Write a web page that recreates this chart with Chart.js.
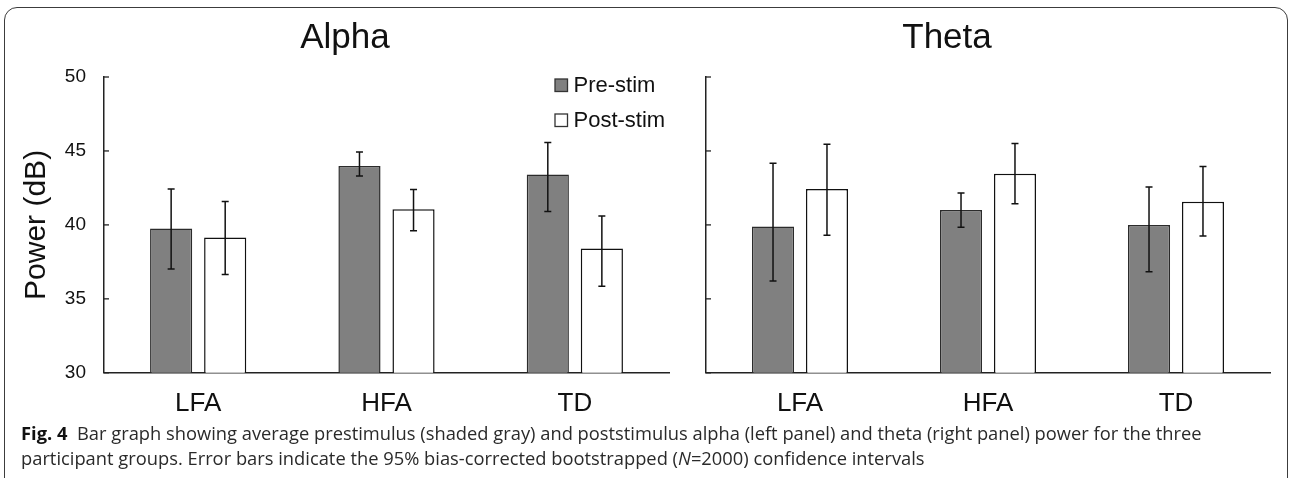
<!DOCTYPE html>
<html><head><meta charset="utf-8">
<script src="https://cdn.jsdelivr.net/npm/chart.js@4.4.1/dist/chart.umd.min.js"></script>
<style>
html,body{margin:0;padding:0;background:#fff;width:1290px;height:478px;overflow:hidden;position:relative}
#frame{position:absolute;left:4px;top:7px;width:1284px;height:540px;border:1.3px solid #3c3c3c;border-radius:13px;box-sizing:border-box}
#c1{position:absolute;left:0;top:0}
#c2{position:absolute;left:624px;top:0}
#cap{position:absolute;left:21px;top:420px;font-family:'Open Sans';color:#2a2a2a;white-space:nowrap;line-height:25px;font-size:16px}
#cap b{color:#111}
</style></head><body>
<div id="frame"></div>
<canvas id="c1" width="690" height="435"></canvas>
<canvas id="c2" width="656" height="435"></canvas>
<div id="cap"><span id="l1"><b>Fig. 4</b>&nbsp; Bar graph showing average prestimulus (shaded gray) and poststimulus alpha (left panel) and theta (right panel) power for the three</span><br><span id="l2">participant groups. Error bars indicate the 95% bias-corrected bootstrapped (<i>N</i>=2000) confidence intervals</span></div>
<script>
// ---- data ----
const groups = ['LFA', 'HFA', 'TD'];
const seriesNames = ['Pre-stim', 'Post-stim'];
const yTicks = [30, 35, 40, 45, 50];

const alphaPre    = [39.75, 43.98, 43.41];
const alphaPreLo  = [37.02, 43.30, 40.91];
const alphaPreHi  = [42.43, 44.93, 45.57];
const alphaPost   = [39.14, 41.05, 38.41];
const alphaPostLo = [36.64, 39.61, 35.86];
const alphaPostHi = [41.59, 42.39, 40.61];

const thetaPre    = [39.90, 41.00, 40.00];
const thetaPreLo  = [36.20, 39.84, 36.84];
const thetaPreHi  = [44.16, 42.16, 42.57];
const thetaPost   = [42.43, 43.45, 41.57];
const thetaPostLo = [39.30, 41.43, 39.25];
const thetaPostHi = [45.45, 45.50, 43.95];

// ---- styling ----
const F = "'Liberation Sans', Arial, sans-serif";
const preFill = '#808080', postFill = '#ffffff';

const errorBars = {
  id: 'errorBars',
  afterDatasetsDraw(chart) {
    const ctx = chart.ctx, ys = chart.scales.y;
    chart.data.datasets.forEach((ds, i) => {
      const meta = chart.getDatasetMeta(i);
      meta.data.forEach((bar, j) => {
        const x = bar.x;
        const yl = ys.getPixelForValue(ds.lo[j]);
        const yh = ys.getPixelForValue(ds.hi[j]);
        ctx.save();
        ctx.strokeStyle = '#111';
        ctx.lineWidth = 1.5;
        ctx.beginPath();
        ctx.moveTo(x, yl); ctx.lineTo(x, yh);
        ctx.moveTo(x - 3.5, yl); ctx.lineTo(x + 3.5, yl);
        ctx.moveTo(x - 3.5, yh); ctx.lineTo(x + 3.5, yh);
        ctx.stroke();
        ctx.restore();
      });
    });
  }
};

const innerTicks = {
  id: 'innerTicks',
  afterDraw(chart) {
    const ys = chart.scales.y, ctx = chart.ctx;
    ctx.save();
    ctx.strokeStyle = '#222';
    ctx.lineWidth = 1.3;
    ys.ticks.forEach(t => {
      const y = ys.getPixelForValue(t.value);
      ctx.beginPath();
      ctx.moveTo(ys.right, y);
      ctx.lineTo(ys.right + 5, y);
      ctx.stroke();
    });
    ctx.restore();
  }
};

const boxLegend = {
  id: 'boxLegend',
  afterDraw(chart, args, opts) {
    if (!opts || !opts.show) return;
    const ca = chart.chartArea, ctx = chart.ctx;
    ctx.save();
    chart.data.datasets.forEach((ds, i) => {
      const x = ca.right - 114, y = ca.top + 2 + i * 35;
      ctx.fillStyle = ds.backgroundColor;
      ctx.fillRect(x, y, 12.5, 12.5);
      ctx.strokeStyle = '#333';
      ctx.lineWidth = 1.3;
      ctx.strokeRect(x, y, 12.5, 12.5);
      ctx.fillStyle = '#111';
      ctx.font = '22px ' + F;
      ctx.textBaseline = 'middle';
      ctx.textAlign = 'left';
      ctx.fillText(ds.label, x + 18.5, y + 6.5);
    });
    ctx.restore();
  }
};

function makeDatasets(pre, preLo, preHi, post, postLo, postHi) {
  const common = { categoryPercentage: 0.574, barPercentage: 0.78, borderWidth: 1.5 };
  return [
    Object.assign({ label: seriesNames[0], data: pre, lo: preLo, hi: preHi,
      backgroundColor: preFill, borderColor: '#2b2b2b' }, common),
    Object.assign({ label: seriesNames[1], data: post, lo: postLo, hi: postHi,
      backgroundColor: postFill, borderColor: '#111' }, common)
  ];
}

function makeOptions(title, showYLabels, yWidth, pad) {
  return {
    responsive: false,
    animation: false,
    layout: { padding: pad },
    plugins: {
      legend: { display: false },
      tooltip: { enabled: false },
      boxLegend: { show: showYLabels },
      title: {
        display: true, text: title, color: '#111',
        font: { family: F, size: 35, weight: 'normal' },
        padding: { top: 17, bottom: 18 }
      }
    },
    scales: {
      x: {
        grid: { display: false, drawTicks: false },
        border: { display: true, color: '#222', width: 1.5 },
        ticks: { color: '#111', font: { family: F, size: 26 }, padding: 15 }
      },
      y: {
        min: 30, max: 50,
        afterBuildTicks: s => { s.ticks = yTicks.map(v => ({ value: v })); },
        afterFit: s => { s.width = yWidth; },
        grid: { display: false, drawTicks: false },
        border: { display: true, color: '#222', width: 1.5 },
        ticks: { display: showYLabels, color: '#111', font: { family: F, size: 19 }, padding: 18 },
        title: {
          display: showYLabels, text: 'Power (dB)', color: '#111',
          font: { family: F, size: 30, lineHeight: 1 },
          padding: { top: 1, bottom: 0 }
        }
      }
    }
  };
}

new Chart(document.getElementById('c1'), {
  type: 'bar',
  data: { labels: groups, datasets: makeDatasets(alphaPre, alphaPreLo, alphaPreHi, alphaPost, alphaPostLo, alphaPostHi) },
  options: makeOptions('Alpha', true, 83, { left: 21, right: 21, top: 0, bottom: 1 }),
  plugins: [errorBars, innerTicks, boxLegend]
});

new Chart(document.getElementById('c2'), {
  type: 'bar',
  data: { labels: groups, datasets: makeDatasets(thetaPre, thetaPreLo, thetaPreHi, thetaPost, thetaPostLo, thetaPostHi) },
  options: makeOptions('Theta', false, 82, { left: 0, right: 10, top: 0, bottom: 1 }),
  plugins: [errorBars, innerTicks, boxLegend]
});

// fit caption line width to the reference line length
(function fitCaption() {
  const cap = document.getElementById('cap');
  const l1 = document.getElementById('l1');
  const w = l1.getBoundingClientRect().width;
  const size = 16 * 1181 / w;
  cap.style.fontSize = size.toFixed(2) + 'px';
})();
</script>
</body></html>
